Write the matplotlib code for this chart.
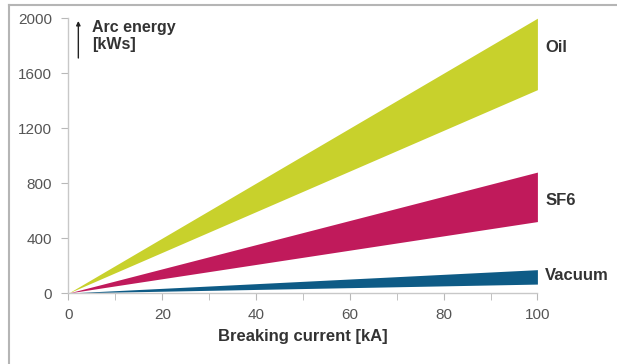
import matplotlib.pyplot as plt
from matplotlib.lines import Line2D

plt.rcParams['font.family'] = ['Liberation Sans', 'DejaVu Sans']

# breaking current [kA]
current = [0, 100]

# arc energy bands [kWs], lower / upper edge
oil_low = [0, 1480]
oil_high = [0, 2000]
sf6_low = [0, 520]
sf6_high = [0, 880]
vac_low = [0, 65]
vac_high = [0, 170]

names = ['Oil', 'SF6', 'Vacuum']
colors = ['#c8d12c', '#c01a5b', '#0e5b86']

x_ticks = [0, 20, 40, 60, 80, 100]
y_ticks = [0, 400, 800, 1200, 1600, 2000]

fig = plt.figure(figsize=(6.17, 3.64), dpi=100)
ax = fig.add_axes([0.111, 0.195, 0.760, 0.755])

bands = [(oil_low, oil_high), (sf6_low, sf6_high), (vac_low, vac_high)]
for (lo, hi), c in zip(bands, colors):
    ax.fill_between(current, lo, hi, color=c, linewidth=0)

ax.set_xlim(0, 100)
ax.set_ylim(0, 2000)
ax.set_xticks(x_ticks)
ax.set_xticks(range(0, 101, 10), minor=True)
ax.set_yticks(y_ticks)
ax.tick_params(axis='both', colors='#b8b8b8', labelcolor='#555555', labelsize=11, length=5)
ax.tick_params(axis='x', which='minor', colors='#b8b8b8', length=5)
ax.tick_params(axis='x', pad=6)
ax.tick_params(axis='y', pad=7)

for s in ['top', 'right']:
    ax.spines[s].set_visible(False)
for s in ['left', 'bottom']:
    ax.spines[s].set_color('#c8c8c8')
    ax.spines[s].set_linewidth(1.0)

ax.set_xlabel('Breaking current [kA]', fontsize=12, fontweight='bold', color='#333333', labelpad=5)

# y axis title with arrow
ax.annotate('', xy=(2.1, 2000), xytext=(2.1, 1690),
            arrowprops=dict(arrowstyle='-|>', color='#222222', lw=1.0, mutation_scale=6))
ax.text(5.0, 1985, 'Arc energy\n[kWs]', fontsize=11.5, fontweight='bold', color='#333333',
        va='top', ha='left', linespacing=1.15)

# series labels at the right end
label_y = [1785, 676, 130]
for n, yy in zip(names, label_y):
    ax.text(101.7, yy, n, fontsize=12, fontweight='bold', color='#333333', va='center', ha='left')

# outer frame (left and top edges)
fig.add_artist(Line2D([0.0146, 0.0146], [0.0, 0.986], color='#b5b5b5', lw=1.5, transform=fig.transFigure))
fig.add_artist(Line2D([0.0146, 1.0], [0.986, 0.986], color='#b5b5b5', lw=1.5, transform=fig.transFigure))

fig.savefig('out.png', dpi=100)
